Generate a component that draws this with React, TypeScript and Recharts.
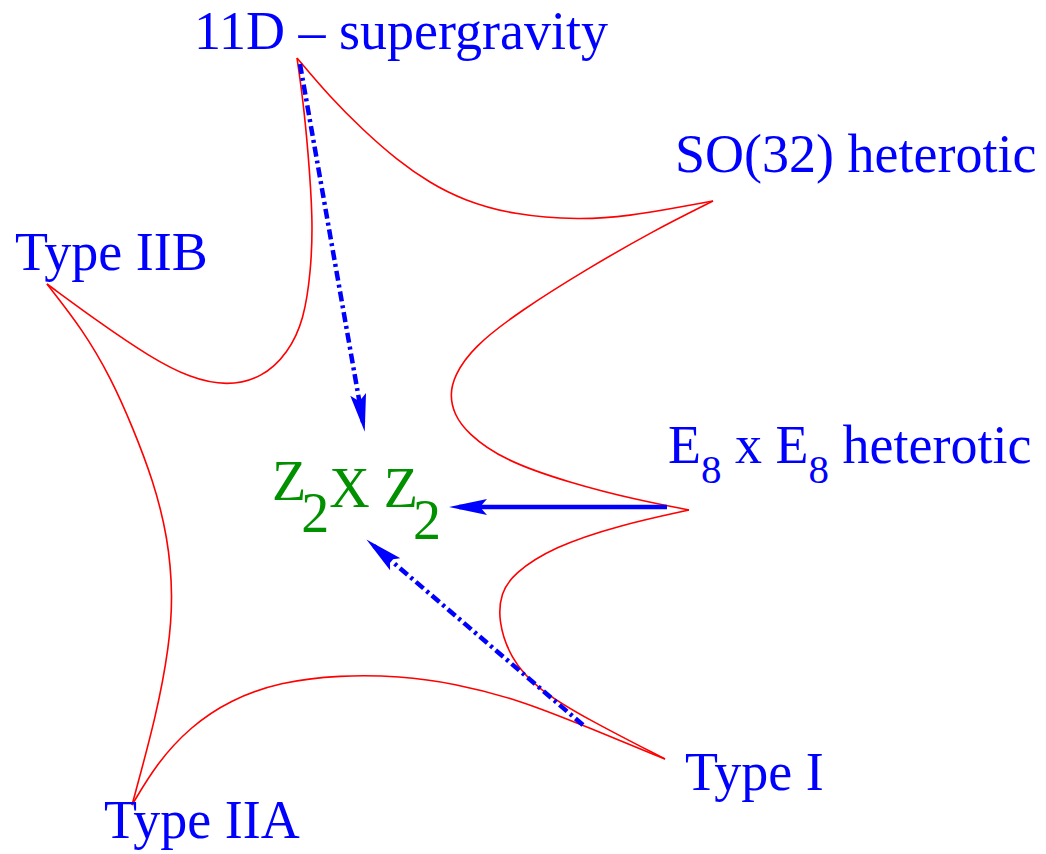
import React from "react";
import { ComposedChart, Line, Scatter, XAxis, YAxis } from "recharts";

// points, in pixel units (y grows downwards)
const edge11dToSo32 = [
  { x: 297, y: 58 }, { x: 330, y: 97 }, { x: 363, y: 130 }, { x: 397, y: 160 },
  { x: 430, y: 183 }, { x: 463, y: 200 }, { x: 513, y: 215 }, { x: 580, y: 220 },
  { x: 630, y: 216 }, { x: 680, y: 207 }, { x: 713, y: 201 },
];
const edgeSo32ToE8 = [
  { x: 713, y: 201 }, { x: 653, y: 231 }, { x: 587, y: 269 }, { x: 520, y: 311 },
  { x: 473, y: 347 }, { x: 454, y: 376 }, { x: 450, y: 395 }, { x: 454, y: 414 },
  { x: 467, y: 433 }, { x: 503, y: 460 }, { x: 570, y: 483 }, { x: 637, y: 500 },
  { x: 689, y: 510 },
];
const edgeE8ToTypeI = [
  { x: 689, y: 510 }, { x: 620, y: 525 }, { x: 553, y: 547 }, { x: 513, y: 574 },
  { x: 501, y: 593 }, { x: 498, y: 620 }, { x: 510, y: 658 }, { x: 537, y: 689 },
  { x: 587, y: 719 }, { x: 665, y: 759 },
];
const edgeTypeIToIIA = [
  { x: 665, y: 759 }, { x: 587, y: 727 }, { x: 520, y: 700 }, { x: 453, y: 683 },
  { x: 400, y: 676 }, { x: 340, y: 675 }, { x: 280, y: 682 }, { x: 230, y: 700 },
  { x: 190, y: 727 }, { x: 157, y: 763 }, { x: 132, y: 805 },
];
const edgeIIAToIIB = [
  { x: 132, y: 805 }, { x: 157, y: 713 }, { x: 169, y: 647 }, { x: 173, y: 597 },
  { x: 168, y: 537 }, { x: 153, y: 480 }, { x: 133, y: 428 }, { x: 111, y: 378 },
  { x: 83, y: 330 }, { x: 47, y: 284 },
];
const edgeIIBTo11d = [
  { x: 47, y: 284 }, { x: 100, y: 323 }, { x: 150, y: 357 }, { x: 190, y: 378 },
  { x: 227, y: 386 }, { x: 262, y: 378 }, { x: 288, y: 353 }, { x: 304, y: 320 },
  { x: 311, y: 270 }, { x: 313, y: 220 }, { x: 308, y: 150 }, { x: 303, y: 100 },
  { x: 297, y: 58 },
];
const edges = [
  edge11dToSo32, edgeSo32ToE8, edgeE8ToTypeI,
  edgeTypeIToIIA, edgeIIAToIIB, edgeIIBTo11d,
];

const arrowFrom11d = [{ x: 300, y: 64 }, { x: 363, y: 422 }];
const arrowFromE8 = [{ x: 667, y: 507 }, { x: 459, y: 507 }];
const arrowFromTypeI = [{ x: 583, y: 725 }, { x: 374, y: 546 }];

const labels = [
  { x: 194, y: 49, kind: "blue", parts: [["11D \u2013 supergravity", false]] },
  { x: 675, y: 172, kind: "blue", parts: [["SO(32) heterotic", false]] },
  { x: 15, y: 270, kind: "blue", parts: [["Type IIB", false]] },
  {
    x: 668, y: 463, kind: "blue",
    parts: [["E", false], ["8", true], [" x E", false], ["8", true], [" heterotic", false]],
  },
  { x: 685, y: 790, kind: "blue", parts: [["Type I", false]] },
  { x: 104, y: 838, kind: "blue", parts: [["Type IIA", false]] },
  {
    x: 272, y: 500, kind: "green",
    parts: [["Z", false], ["2", true], ["X Z", false], ["2", true]],
  },
];

const FONT = "'Liberation Serif', 'Times New Roman', Times, serif";
const labelStyles: Record<string, any> = {
  blue: { color: "#0000ff", size: 54, subSize: 41, subDy: 20, backDy: 20, subDx: 0 },
  green: { color: "#009000", size: 56, subSize: 56, subDy: 32, backDy: 25, subDx: -5 },
};

const LabelShape = (props: any) => {
  const { cx, cy, payload } = props;
  const st = labelStyles[payload.kind];
  let down = false;
  return (
    <text x={cx} y={cy} fill={st.color} fontSize={st.size} fontFamily={FONT} style={{ whiteSpace: "pre" }}>
      {payload.parts.map(([t, sub]: [string, boolean], i: number) => {
        let dy = 0;
        let dx = 0;
        if (sub && !down) { dy = st.subDy; dx = st.subDx; down = true; }
        else if (!sub && down) { dy = -st.backDy; down = false; }
        return (
          <tspan key={i} dy={dy} dx={dx} fontSize={sub ? st.subSize : st.size}>
            {t}
          </tspan>
        );
      })}
    </text>
  );
};

const App = () => {
  return (
    <div style={{ position: "absolute", left: 0, top: 0 }}>
      <svg width={0} height={0} style={{ position: "absolute" }}>
        <defs>
          <marker
            id="head"
            markerUnits="userSpaceOnUse"
            viewBox="0 0 38 16"
            markerWidth={38}
            markerHeight={16}
            refX={28}
            refY={8}
            orient="auto"
          >
            <path d="M0,0 L38,8 L0,16 L7,8 Z" fill="#0000ff" />
          </marker>
        </defs>
      </svg>
      <ComposedChart width={1046} height={854} margin={{ top: 0, right: 0, bottom: 0, left: 0 }}>
        <XAxis type="number" dataKey="x" domain={[0, 1046]} allowDataOverflow hide />
        <YAxis type="number" dataKey="y" domain={[0, 854]} allowDataOverflow reversed hide />
        {edges.map((d, i) => (
          <Line
            key={i}
            data={d}
            dataKey="y"
            type="basis"
            stroke="#ff0000"
            strokeWidth={1.6}
            dot={false}
            activeDot={false}
            isAnimationActive={false}
          />
        ))}
        <Line
          data={arrowFrom11d}
          dataKey="y"
          type="linear"
          stroke="#0000ff"
          strokeWidth={4.5}
          strokeDasharray="10 4 3 4"
          markerEnd="url(#head)"
          dot={false}
          activeDot={false}
          isAnimationActive={false}
        />
        <Line
          data={arrowFromTypeI}
          dataKey="y"
          type="linear"
          stroke="#0000ff"
          strokeWidth={4.5}
          strokeDasharray="10 4 3 4"
          markerEnd="url(#head)"
          dot={false}
          activeDot={false}
          isAnimationActive={false}
        />
        <Line
          data={arrowFromE8}
          dataKey="y"
          type="linear"
          stroke="#0000ff"
          strokeWidth={4.5}
          markerEnd="url(#head)"
          dot={false}
          activeDot={false}
          isAnimationActive={false}
        />
        <Scatter data={labels} dataKey="y" shape={LabelShape} isAnimationActive={false} />
      </ComposedChart>
    </div>
  );
};

export default App;
